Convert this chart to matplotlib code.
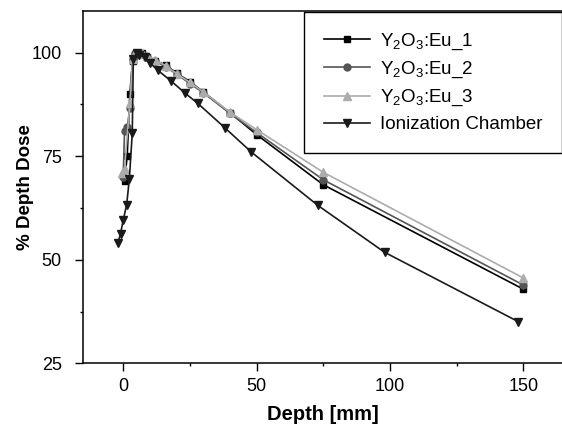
import matplotlib
matplotlib.use("Agg")
import matplotlib.pyplot as plt
from matplotlib.ticker import MultipleLocator

plt.rcParams['font.family'] = ['Liberation Sans', 'DejaVu Sans']
plt.rcParams['mathtext.fontset'] = 'custom'
plt.rcParams['mathtext.rm'] = 'Liberation Sans'

#% Depth dose data
depth_1 = [0.5, 1.5, 2.5, 3.5, 4.5, 5.5, 7, 9, 12, 16, 20, 25, 30, 40, 50, 75, 150]
dose_1 = [69, 75, 90, 98, 99.5, 100, 99.8, 99, 98, 97, 95, 93, 90.5, 85.5, 80.2, 68.1, 42.9]

depth_2 = [0, 0.5, 1.5, 2.5, 3.5, 4.5, 5.5, 7, 9, 12, 16, 20, 25, 30, 40, 50, 75, 150]
dose_2 = [70, 81, 82, 86.5, 98.5, 99.8, 100, 99.7, 99, 98, 96.5, 94.8, 92.5, 90.3, 85.3, 80.7, 69.3, 43.9]

depth_3 = [-0.5, 0.5, 2.5, 3.5, 4.5, 5.5, 7, 9, 12, 16, 20, 25, 30, 40, 50, 75, 150]
dose_3 = [71, 72, 87.7, 98.5, 99.8, 100, 99.8, 99.2, 98.2, 96.8, 94.9, 92.8, 90.5, 85.6, 81.4, 71.1, 45.6]

depth_ic = [-2, -1, 0, 1.3, 2.3, 3.4, 3.8, 5, 6, 8, 10, 13, 18, 23, 28, 38, 48, 73, 98, 148]
dose_ic = [54, 56.3, 59.5, 63.3, 69.4, 80.5, 98.4, 99.8, 99.5, 98.8, 97.5, 95.7, 93.1, 90.3,
           87.7, 81.9, 76.0, 63.1, 51.8, 35.1]

labels = ['Y$_2$O$_3$:Eu_1', 'Y$_2$O$_3$:Eu_2', 'Y$_2$O$_3$:Eu_3', 'Ionization Chamber']

fig = plt.figure(figsize=(5.62, 4.25), dpi=100)
ax = fig.add_axes([0.148, 0.145, 0.852, 0.829])

ax.plot(depth_1, dose_1, color='black', marker='s', markersize=4.5, lw=1.2, label=labels[0])
ax.plot(depth_2, dose_2, color='#555555', marker='o', markersize=5, lw=1.2, label=labels[1])
ax.plot(depth_3, dose_3, color='#acacac', marker='^', markersize=5.5, lw=1.2, label=labels[2])
ax.plot(depth_ic, dose_ic, color='#1a1a1a', marker='v', markersize=6, lw=1.2, label=labels[3])

ax.set_xlim(-15, 164.5)
ax.set_ylim(25, 110)
ax.xaxis.set_major_locator(MultipleLocator(50))
ax.xaxis.set_minor_locator(MultipleLocator(25))
ax.yaxis.set_major_locator(MultipleLocator(25))
ax.yaxis.set_minor_locator(MultipleLocator(12.5))
ax.tick_params(which='major', direction='out', length=5.5, width=1, labelsize=13)
ax.tick_params(axis='x', which='major', pad=5)
ax.tick_params(axis='y', which='major', pad=10)
ax.tick_params(which='minor', direction='out', length=2.5, width=1)
ax.spines['right'].set_visible(False)
for s in ['left', 'bottom', 'top']:
    ax.spines[s].set_linewidth(1.1)

ax.set_xlabel('Depth [mm]', fontsize=14.5, fontweight='bold', labelpad=7)
ax.set_ylabel('% Depth Dose', fontsize=13.5, fontweight='bold')
ax.yaxis.set_label_coords(-0.103, 0.5)

leg = ax.legend(loc='upper right', bbox_to_anchor=(1.0, 0.998), fontsize=13.5, frameon=True,
                fancybox=False, framealpha=1, edgecolor='black', handlelength=2.5,
                handletextpad=0.5, borderpad=1.05, labelspacing=0.42, borderaxespad=0)
leg.get_frame().set_linewidth(1.0)

plt.savefig('out.png', dpi=100)
